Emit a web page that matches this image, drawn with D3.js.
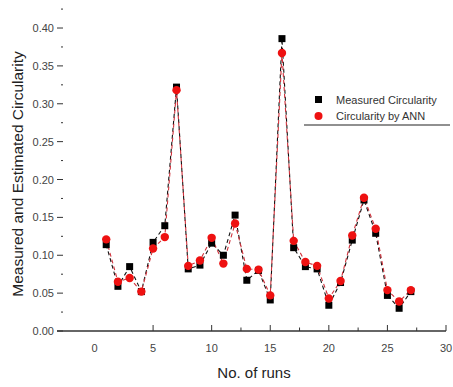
<!DOCTYPE html>
<html>
<head>
<meta charset="utf-8">
<script src="https://cdn.jsdelivr.net/npm/d3@7"></script>
<style>
  body { margin: 0; background: #fff; }
  svg { display: block; font-family: "Liberation Sans", Arial, sans-serif; }
</style>
</head>
<body>
<svg id="chart" width="453" height="387"></svg>
<script>
// Run numbers
const runs = [1,2,3,4,5,6,7,8,9,10,11,12,13,14,15,16,17,18,19,20,21,22,23,24,25,26,27];
// Measured circularity per run
const measured = [0.114,0.059,0.085,0.052,0.117,0.139,0.322,0.082,0.087,0.116,0.100,0.153,0.067,0.080,0.041,0.386,0.110,0.085,0.082,0.034,0.064,0.120,0.173,0.129,0.047,0.030,0.052];
// Circularity predicted by the ANN
const predicted = [0.121,0.065,0.070,0.052,0.109,0.124,0.318,0.086,0.093,0.123,0.089,0.142,0.082,0.081,0.047,0.367,0.119,0.091,0.086,0.043,0.066,0.126,0.176,0.135,0.054,0.039,0.054];

const xMajor = [5,10,15,20,25,30];
const xMinor = [12.5,17.5,22.5,27.5];
const xLabels = [0,5,10,15,20,25,30];
const yMajor = [0,0.05,0.10,0.15,0.20,0.25,0.30,0.35,0.40];
const yMinor = [0.025,0.075,0.125,0.175,0.225,0.275,0.325,0.375,0.425];

const seriesNames = ["Measured Circularity", "Circularity by ANN"];

const svg = d3.select("#chart");
const x = d3.scaleLinear().domain([-3.2, 30]).range([57, 446]);
const y = d3.scaleLinear().domain([0, 0.43]).range([331, 5.3]);

const axisColor = "#333";
const labelColor = "#444";

// x axis line
svg.append("line")
  .attr("x1", x(-3.2)).attr("x2", x(30))
  .attr("y1", y(0)).attr("y2", y(0))
  .attr("stroke", axisColor).attr("stroke-width", 1.3);

// x ticks pointing into the plot
svg.selectAll(".xmaj").data(xMajor).enter().append("line")
  .attr("x1", d => x(d)).attr("x2", d => x(d))
  .attr("y1", y(0)).attr("y2", y(0) - 6)
  .attr("stroke", axisColor).attr("stroke-width", 1);
svg.selectAll(".xmin").data(xMinor).enter().append("line")
  .attr("x1", d => x(d)).attr("x2", d => x(d))
  .attr("y1", y(0)).attr("y2", y(0) - 3.5)
  .attr("stroke", axisColor).attr("stroke-width", 1);
svg.selectAll(".xlab").data(xLabels).enter().append("text")
  .attr("x", d => x(d)).attr("y", y(0) + 21)
  .attr("text-anchor", "middle")
  .attr("font-size", 11).attr("fill", labelColor)
  .text(d => d);

// y ticks and labels
svg.selectAll(".ymaj").data(yMajor).enter().append("line")
  .attr("x1", 57).attr("x2", 63)
  .attr("y1", d => y(d)).attr("y2", d => y(d))
  .attr("stroke", axisColor).attr("stroke-width", 1);
svg.selectAll(".ymin").data(yMinor).enter().append("line")
  .attr("x1", 61).attr("x2", 63)
  .attr("y1", d => y(d)).attr("y2", d => y(d))
  .attr("stroke", axisColor).attr("stroke-width", 1);
svg.selectAll(".ylab").data(yMajor).enter().append("text")
  .attr("x", 54).attr("y", d => y(d) + 4)
  .attr("text-anchor", "end")
  .attr("font-size", 11).attr("fill", labelColor)
  .text(d => d.toFixed(2));

// axis titles
svg.append("text")
  .attr("transform", "translate(23," + 174 + ") rotate(-90)")
  .attr("text-anchor", "middle")
  .attr("font-size", 15.5).attr("fill", "#222")
  .text("Measured and Estimated Circularity");
svg.append("text")
  .attr("x", 254).attr("y", 378)
  .attr("text-anchor", "middle")
  .attr("font-size", 15).attr("fill", "#222")
  .text("No. of runs");

// series lines
const lineOf = vals => d3.line().x((d, i) => x(runs[i])).y(d => y(d))(vals);
svg.append("path").attr("d", lineOf(measured))
  .attr("fill", "none").attr("stroke", "#111").attr("stroke-width", 1.1)
  .attr("stroke-dasharray", "4,3");
svg.append("path").attr("d", lineOf(predicted))
  .attr("fill", "none").attr("stroke", "#d0303a").attr("stroke-width", 1.1)
  .attr("stroke-dasharray", "4,3");

// markers
const sq = 7;
svg.selectAll(".sq").data(measured).enter().append("rect")
  .attr("x", (d, i) => x(runs[i]) - sq / 2)
  .attr("y", d => y(d) - sq / 2)
  .attr("width", sq).attr("height", sq)
  .attr("fill", "#000");
svg.selectAll(".ci").data(predicted).enter().append("circle")
  .attr("cx", (d, i) => x(runs[i]))
  .attr("cy", d => y(d))
  .attr("r", 4.2)
  .attr("fill", "#ee1111");

// legend
const lg = svg.append("g");
lg.append("rect").attr("x", 315).attr("y", 96).attr("width", 7).attr("height", 7).attr("fill", "#000");
lg.append("circle").attr("cx", 318.5).attr("cy", 116).attr("r", 4).attr("fill", "#ee1111");
lg.append("text").attr("x", 336).attr("y", 104).attr("font-size", 11).attr("fill", "#333").text(seriesNames[0]);
lg.append("text").attr("x", 336).attr("y", 120).attr("font-size", 11).attr("fill", "#333").text(seriesNames[1]);
lg.append("line").attr("x1", 304).attr("x2", 450).attr("y1", 125).attr("y2", 125)
  .attr("stroke", "#222").attr("stroke-width", 1.2);
</script>
</body>
</html>
